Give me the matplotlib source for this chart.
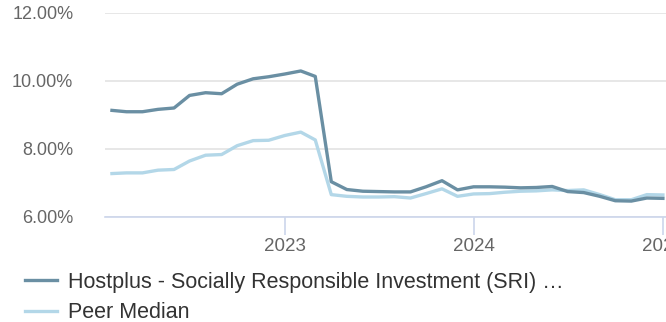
import datetime as dt
import matplotlib.pyplot as plt
import matplotlib.dates as mdates
from matplotlib.ticker import FuncFormatter

plt.rcParams['font.family'] = ['Liberation Sans', 'DejaVu Sans']

# monthly points, Feb 2022 .. Jan 2025
months = [dt.date(2022 + (1 + i) // 12, (1 + i) % 12 + 1, 1) for i in range(36)]

fund = [9.13, 9.09, 9.09, 9.16, 9.20, 9.57, 9.65, 9.62, 9.90, 10.06, 10.12, 10.20,
        10.29, 10.13, 7.03, 6.80, 6.75, 6.74, 6.73, 6.73, 6.88, 7.06, 6.79, 6.88,
        6.88, 6.87, 6.85, 6.86, 6.89, 6.74, 6.71, 6.60, 6.47, 6.46, 6.55, 6.54]
peer = [7.27, 7.29, 7.29, 7.37, 7.39, 7.64, 7.81, 7.83, 8.09, 8.24, 8.25, 8.39,
        8.49, 8.26, 6.65, 6.60, 6.58, 6.58, 6.59, 6.55, 6.68, 6.82, 6.60, 6.67,
        6.68, 6.72, 6.75, 6.76, 6.79, 6.77, 6.79, 6.65, 6.50, 6.50, 6.65, 6.64]

fund_name = "Hostplus - Socially Responsible Investment (SRI) \u2026"
peer_name = "Peer Median"
yticks = [6, 8, 10, 12]
xticks = [dt.date(2023, 1, 1), dt.date(2024, 1, 1), dt.date(2025, 1, 1)]

fig = plt.figure(figsize=(6.66, 3.22), dpi=100)
ax = fig.add_axes([0.158, 0.327, 0.842, 0.633])

l1, = ax.plot(months, fund, color="#6a8fa3", lw=2.4, label=fund_name, zorder=3)
l2, = ax.plot(months, peer, color="#b3d7e8", lw=2.4, label=peer_name, zorder=2)

ax.set_ylim(6, 12)
ax.set_yticks(yticks)
ax.yaxis.set_major_formatter(FuncFormatter(lambda v, p: f"{v:.2f}%"))
ax.set_xlim(dt.date(2022, 1, 19), dt.date(2025, 1, 7))
ax.set_xticks(xticks)
ax.xaxis.set_major_formatter(mdates.DateFormatter("%Y"))

ax.grid(axis="y", color="#e3e3e3", lw=1.2)
ax.set_axisbelow(True)
for s in ["top", "right", "left"]:
    ax.spines[s].set_visible(False)
ax.spines["bottom"].set_color("#ccd6eb")
ax.spines["bottom"].set_linewidth(1.2)
ax.tick_params(axis="y", length=0, labelsize=13, labelcolor="#666666", pad=23)
ax.tick_params(axis="x", length=13, width=1.2, color="#ccd6eb",
               labelsize=13.5, labelcolor="#666666", pad=2)

fig.legend(handles=[l1, l2], loc="upper left", bbox_to_anchor=(0.0246, 0.182),
           frameon=False, fontsize=15.5, labelcolor="#333333", handlelength=1.48,
           handletextpad=0.5, labelspacing=0.43, borderaxespad=0)

fig.savefig("out.png", dpi=100)
